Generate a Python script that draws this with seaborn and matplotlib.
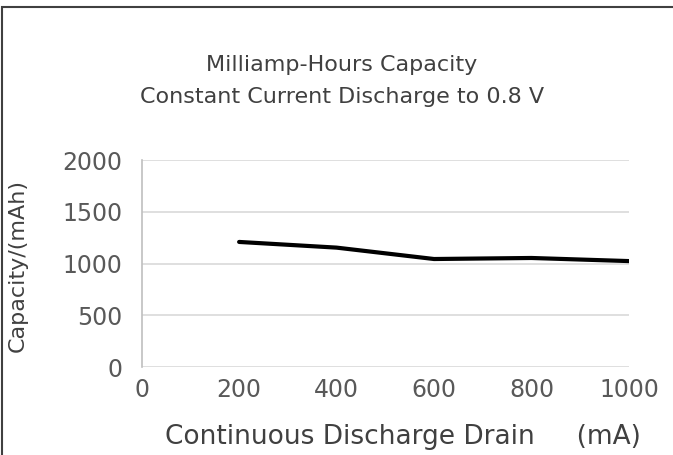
import pandas as pd
import matplotlib
matplotlib.use("Agg")
import matplotlib.pyplot as plt
import seaborn as sns
from matplotlib.patches import Rectangle

drain_ma = [200, 400, 600, 800, 1000]
capacity_mah = [1210, 1155, 1045, 1055, 1025]
x_ticks = [0, 200, 400, 600, 800, 1000]
y_ticks = [0, 500, 1000, 1500, 2000]

df = pd.DataFrame({"drain": drain_ma, "capacity": capacity_mah})

sns.set_theme(style="white")
plt.rcParams["font.family"] = ["DejaVu Sans"]

fig = plt.figure(figsize=(6.73, 4.55), dpi=100)
ax = fig.add_axes([0.2105, 0.193, 0.724, 0.455])

sns.lineplot(data=df, x="drain", y="capacity", ax=ax, color="black", linewidth=3)

ax.set_xlim(0, 1000)
ax.set_ylim(0, 2000)
ax.set_xticks(x_ticks)
ax.set_yticks(y_ticks)
ax.grid(axis="y", color="#d9d9d9", linewidth=1.2)
ax.tick_params(axis="both", length=0, labelsize=17, colors="#595959")
ax.tick_params(axis="y", pad=14)
ax.tick_params(axis="x", pad=8)
for s in ["top", "right", "bottom"]:
    ax.spines[s].set_visible(False)
ax.spines["left"].set_color("#bfbfbf")
ax.spines["left"].set_linewidth(1.2)

ax.set_xlabel("Continuous Discharge Drain     (mA)", fontsize=19, color="#404040")
ax.xaxis.set_label_coords(0.537, -0.338)
ax.xaxis.label.set_verticalalignment("center")
ax.set_ylabel("Capacity/(mAh)", fontsize=16, color="#404040")
ax.yaxis.set_label_coords(-0.254, 0.49)
ax.yaxis.label.set_verticalalignment("center")

fig.text(0.508, 0.823, "Milliamp-Hours Capacity\nConstant Current Discharge to 0.8 V",
         ha="center", va="center", fontsize=16, color="#404040", linespacing=1.75)

# outer chart frame (only left/top visible in the crop)
fig.patches.append(Rectangle((0.003, -0.1), 1.2, 1.085, transform=fig.transFigure,
                             fill=False, edgecolor="#404040", linewidth=1.5))

fig.savefig("out.png", dpi=100)
